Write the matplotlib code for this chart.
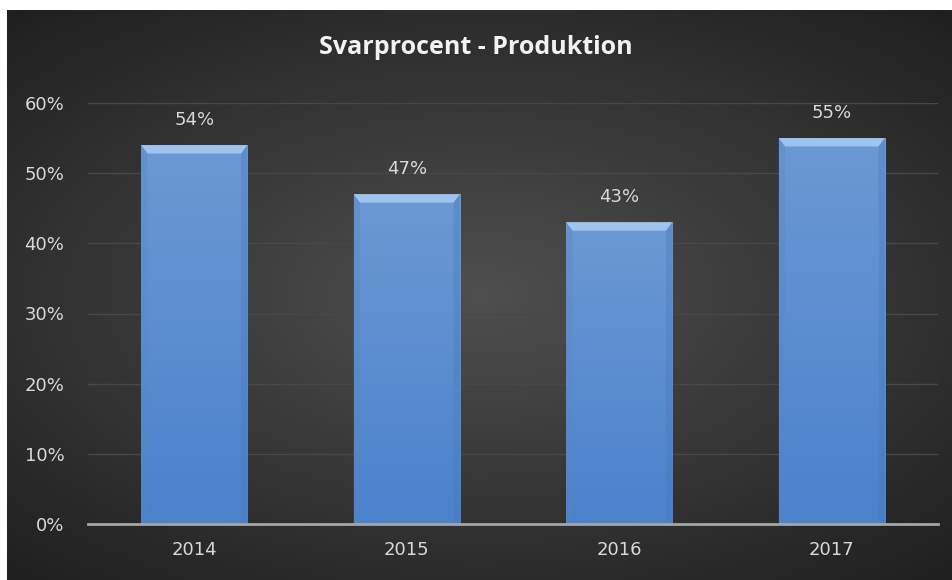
import matplotlib
matplotlib.use("Agg")
import matplotlib.pyplot as plt
import numpy as np
from matplotlib.patches import Polygon
from matplotlib.ticker import PercentFormatter

years = ["2014", "2015", "2016", "2017"]
rates = [54, 47, 43, 55]
title = "Svarprocent - Produktion"

fig = plt.figure(figsize=(9.53, 5.80), dpi=100)
fig.patch.set_facecolor("white")

# dark radial background (chart area starts a few px in from top/left)
bg = fig.add_axes([7 / 953, 0, 946 / 953, 570 / 580])
bg.set_axis_off()
yy, xx = np.mgrid[-1:1:300j, -1:1:500j]
r = np.sqrt((xx * 0.9) ** 2 + (yy * 1.0) ** 2)
shade = np.clip(0.31 - 0.14 * r, 0.12, 0.31)
bg.imshow(np.dstack([shade, shade, shade]), aspect="auto", extent=[0, 1, 0, 1])
bg.set_xlim(0, 1)
bg.set_ylim(0, 1)

ax = fig.add_axes([88 / 953, 56 / 580, 850 / 953, 421 / 580])
ax.patch.set_alpha(0)
x = np.arange(len(years))
bars = ax.bar(x, rates, width=0.5, color="#5b8fd2", zorder=3)

ax.set_xlim(-0.5, len(years) - 0.5)
ax.set_ylim(0, 60)
ax.set_yticks(range(0, 61, 10))
ax.yaxis.set_major_formatter(PercentFormatter(decimals=0))
ax.set_xticks(x)
ax.set_xticklabels(years)
ax.tick_params(axis="both", length=0, colors="#d9d9d9", labelsize=13)
ax.tick_params(axis="y", pad=17)
ax.tick_params(axis="x", pad=12)
ax.grid(axis="y", color="#484848", linewidth=1, zorder=0)
for s in ["top", "right", "left"]:
    ax.spines[s].set_visible(False)
ax.spines["bottom"].set_color("#a6a6a6")
ax.spines["bottom"].set_linewidth(2)
ax.spines["bottom"].set_zorder(5)

# gradient + bevel on each bar
grad = np.linspace(0, 1, 256).reshape(-1, 1, 1)
top = np.array([0.42, 0.60, 0.83])
bot = np.array([0.29, 0.51, 0.80])
img = bot + (top - bot) * grad * np.ones((1, 1, 3))
for b, v in zip(bars, rates):
    x0, w, h = b.get_x(), b.get_width(), b.get_height()
    im = ax.imshow(img, origin="lower", aspect="auto",
                   extent=[x0, x0 + w, 0, h], zorder=3.5)
    im.set_clip_path(b)
    bev = 0.03
    bh = 1.2
    ax.add_patch(Polygon([[x0, h], [x0 + w, h], [x0 + w - bev, h - bh], [x0 + bev, h - bh]],
                         closed=True, facecolor="#9ec4ee", edgecolor="none", zorder=4))
    ax.add_patch(Polygon([[x0, h], [x0 + bev, h - bh], [x0 + bev, 0], [x0, 0]],
                         closed=True, facecolor="#5a86c0", edgecolor="none", zorder=4, alpha=0.35))
    ax.add_patch(Polygon([[x0 + w, h], [x0 + w - bev, h - bh], [x0 + w - bev, 0], [x0 + w, 0]],
                         closed=True, facecolor="#4a78b8", edgecolor="none", zorder=4, alpha=0.35))
    ax.text(b.get_x() + w / 2, h + 3.6, f"{v}%", ha="center", va="center",
            color="#d9d9d9", fontsize=13, zorder=6)

fig.text(0.499, 1 - 48 / 580, title, ha="center", va="center", color="#f2f2f2",
         fontsize=18, fontweight="bold", fontfamily="Open Sans")

fig.savefig("out.png", dpi=100, facecolor=fig.get_facecolor())
